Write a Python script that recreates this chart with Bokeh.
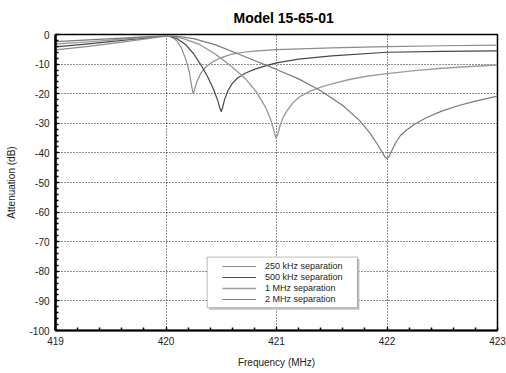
from bokeh.plotting import figure
from bokeh.models import Range1d, FixedTicker, Title, BoxAnnotation, Legend, LegendItem
from bokeh.embed import file_html
from bokeh.resources import INLINE
import numpy as np

# ---------------- data ----------------
series_names = ["250 kHz separation", "500 kHz separation", "1 MHz separation", "2 MHz separation"]

f_250k = [419.0, 419.3, 419.6, 419.8, 419.95, 420.02, 420.06, 420.1, 420.14, 420.18, 420.21, 420.23, 420.245,
          420.255, 420.27, 420.29, 420.32, 420.36, 420.42, 420.5, 420.6, 420.7, 420.8, 421.0, 421.5, 422.0, 422.5, 423.0]
a_250k = [-5.2, -4.0, -2.6, -1.6, -0.8, -0.6, -1.0, -2.2, -4.6, -8.5, -12.5, -17.0, -20.0,
          -19.0, -17.0, -15.0, -12.8, -11.0, -9.3, -7.8, -6.6, -6.0, -5.6, -5.1, -4.5, -4.1, -3.8, -3.6]

f_500k = [419.0, 419.3, 419.6, 419.8, 419.95, 420.03, 420.1, 420.18, 420.25, 420.32, 420.38, 420.43, 420.47,
          420.49, 420.5, 420.51, 420.53, 420.56, 420.6, 420.65, 420.72, 420.8, 420.9, 421.0, 421.2, 421.5, 422.0,
          422.5, 423.0]
a_500k = [-4.2, -3.2, -2.0, -1.2, -0.6, -0.5, -1.4, -3.5, -6.5, -10.5, -14.5, -18.5, -22.5,
          -25.2, -26.0, -25.0, -22.0, -19.0, -16.5, -14.6, -13.0, -11.8, -10.6, -9.6, -8.3, -7.2, -6.0,
          -5.7, -5.5]

f_1m = [419.0, 419.3, 419.6, 419.8, 419.95, 420.05, 420.15, 420.3, 420.45, 420.6, 420.72, 420.82, 420.9,
        420.95, 420.98, 420.995, 421.01, 421.03, 421.06, 421.1, 421.15, 421.22, 421.3, 421.4, 421.5, 421.65,
        421.8, 422.0, 422.25, 422.5, 422.75, 423.0]
a_1m = [-3.2, -2.5, -1.6, -1.0, -0.6, -0.5, -1.3, -3.3, -6.7, -11.0, -15.0, -19.5, -24.5,
        -29.0, -33.0, -35.0, -34.0, -31.0, -28.0, -25.5, -23.0, -20.8, -19.2, -17.8, -16.7, -15.3,
        -14.2, -13.2, -12.2, -11.4, -10.8, -10.3]

f_2m = [419.0, 419.3, 419.6, 419.8, 419.95, 420.1, 420.25, 420.45, 420.65, 420.8, 421.0, 421.2, 421.4, 421.6,
        421.75, 421.85, 421.92, 421.96, 421.985, 422.0, 422.015, 422.04, 422.08, 422.12, 422.18, 422.25,
        422.35, 422.5, 422.65, 422.8, 423.0]
a_2m = [-2.4, -1.8, -1.2, -0.8, -0.5, -0.6, -1.4, -3.5, -6.5, -8.8, -11.8, -15.0, -19.0, -24.0,
        -29.0, -33.5, -37.5, -40.0, -41.6, -41.8, -41.5, -39.5, -36.5, -34.2, -32.2, -30.3,
        -28.2, -25.8, -24.0, -22.5, -20.8]

x_ticks = [419, 420, 421, 422, 423]
x_tick_labels = ["419", "420", "421", "422", "423"]
y_ticks = [0, -10, -20, -30, -40, -50, -60, -70, -80, -90, -100]
y_tick_labels = ["0", "-10", "-20", "-30", "-40", "-50", "-60", "-70", "-80", "-90", "-100"]

title_text = "Model 15-65-01"
x_label = "Frequency (MHz)"
y_label = "Attenuation (dB)"

# ---------------- figure ----------------
FONT = "Liberation Sans"
p = figure(width=506, height=373, x_range=Range1d(419, 423), y_range=Range1d(-100, 0),
           output_backend="svg", toolbar_location=None,
           min_border_left=55, min_border_right=9, min_border_top=34, min_border_bottom=43)
p.background_fill_color = "white"
p.border_fill_color = "white"
p.outline_line_color = "black"
p.outline_line_width = 1.5

p.xaxis.ticker = FixedTicker(ticks=x_ticks, minor_ticks=list(np.round(np.arange(419, 423.001, 0.2), 2)))
p.yaxis.ticker = FixedTicker(ticks=y_ticks, minor_ticks=list(range(-100, 1, 2)))
p.xaxis.major_label_overrides = dict(zip(x_ticks, x_tick_labels))
p.yaxis.major_label_overrides = dict(zip(y_ticks, y_tick_labels))

for ax in (p.xaxis, p.yaxis):
    ax.axis_line_color = "black"
    ax.major_tick_in = 4
    ax.major_tick_out = 0
    ax.minor_tick_in = 3
    ax.minor_tick_out = 0
    ax.major_tick_line_color = "black"
    ax.minor_tick_line_color = "black"
    ax.major_label_text_font = FONT
    ax.major_label_text_font_size = "10px"
    ax.major_label_text_color = "#222222"
    ax.major_label_standoff = 6
    ax.axis_label_text_font = FONT
    ax.axis_label_text_font_size = "10px"
    ax.axis_label_text_font_style = "normal"
    ax.axis_label_text_color = "#222222"
p.xaxis.axis_label = x_label
p.yaxis.axis_label = y_label
p.xaxis.axis_label_standoff = 9
p.yaxis.axis_label_standoff = 9
p.yaxis.axis_line_width = 2.5
p.xaxis.axis_line_width = 2
p.yaxis.minor_tick_line_width = 1.5
p.xaxis.minor_tick_line_width = 1.5

for g in (p.xgrid, p.ygrid):
    g.grid_line_color = "black"
    g.grid_line_dash = "1 2"
    g.grid_line_width = 1
    g.grid_line_alpha = 0.9
p.xgrid.ticker = FixedTicker(ticks=x_ticks)
p.ygrid.ticker = FixedTicker(ticks=y_ticks)

colors = ["#8c8c8c", "#474747", "#9c9c9c", "#7a7a7a"]
widths = [1.2, 1.2, 1.4, 1.2]
xs = [f_250k, f_500k, f_1m, f_2m]
ys = [a_250k, a_500k, a_1m, a_2m]
renderers = []
for x, y, c, w in zip(xs, ys, colors, widths):
    renderers.append(p.line(x, y, line_color=c, line_width=w, line_join="round"))

# legend frame with shadow
px_x = 4.0 / 442.0
px_y = 100.0 / 296.0
box_l, box_r, box_t, box_b = 420.373, 421.733, -75.2, -92.3
shadow = BoxAnnotation(left=box_l + 2 * px_x, right=box_r + 2 * px_x, top=box_t - 2 * px_y, bottom=box_b - 2 * px_y,
                       fill_color="#c4c4c4", fill_alpha=1, line_alpha=0)
frame = BoxAnnotation(left=box_l, right=box_r, top=box_t, bottom=box_b,
                      fill_color="white", fill_alpha=1, line_color="#222222", line_width=1)
p.add_layout(shadow)
p.add_layout(frame)

legend = Legend(items=[LegendItem(label=n, renderers=[r]) for n, r in zip(series_names, renderers)],
                location=(163, 22), orientation="vertical",
                border_line_alpha=0, background_fill_alpha=0, padding=4, spacing=1, margin=0,
                glyph_width=34, glyph_height=10, label_height=10, label_standoff=9,
                label_text_font=FONT, label_text_font_size="9px", label_text_color="#222222")
p.add_layout(legend)

title = Title(text=title_text, align="left", offset=178, standoff=14, vertical_align="top",
              text_font=FONT, text_font_size="14px", text_font_style="bold", text_color="black")
p.add_layout(title, "above")

open("out.html", "w").write(file_html(p, INLINE))
